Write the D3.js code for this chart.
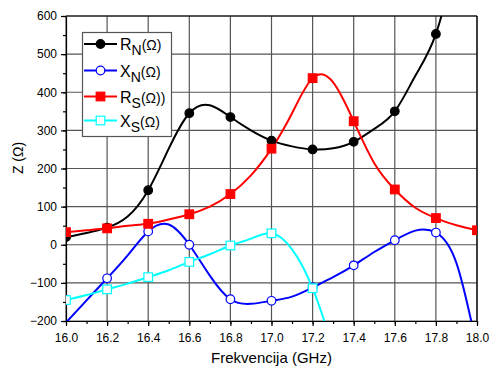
<!DOCTYPE html>
<html><head><meta charset="utf-8">
<script src="https://cdn.jsdelivr.net/npm/d3@7"></script>
<style>body{margin:0;background:#fff}svg{display:block;font-family:"Liberation Sans",Arial,sans-serif}</style>
</head><body><svg id="c" width="491" height="367"></svg>
<script>
// measured every 0.1 GHz; markers are shown on every second point
const freq = [16.0,16.1,16.2,16.3,16.4,16.5,16.6,16.7,16.8,16.9,17.0,17.1,17.2,17.3,17.4,17.5,17.6,17.7,17.8,17.9,18.0];
const RN = [20,31,45,74,143,252,345,366,335,300,273,258,250,253,270,304,350,443,553,760,1000];
const XN = [-204,-146,-88,-28,35,53,0,-81,-143,-155,-147,-136,-112,-85,-54,-19,12,37,32,-48,-270];
const RS = [33,38,43,50,55,66,80,100,133,182,252,345,437,426,324,214,145,97,70,51,38];
const XSfreq = [16.0,16.1,16.2,16.3,16.4,16.5,16.6,16.7,16.8,16.9,17.0,17.1,17.2,17.3];
const XS = [-145,-132,-117,-102,-85,-67,-45,-25,-2,16,30,-12,-114,-270];
const xTicks = [16.0,16.2,16.4,16.6,16.8,17.0,17.2,17.4,17.6,17.8,18.0];
const yTicks = [-200,-100,0,100,200,300,400,500,600];
const legendLabels = [["R","N","(Ω)"],["X","N","(Ω)"],["R","S","(Ω))"],["X","S","(Ω)"]];

const W=491,H=367,m={l:66,r:14,t:16,b:46};
const svg=d3.select("#c");
const x=d3.scaleLinear().domain([16,18]).range([m.l,W-m.r]);
const y=d3.scaleLinear().domain([-200,600]).range([H-m.b,m.t]);

svg.append("defs").append("clipPath").attr("id","clip").append("rect")
 .attr("x",m.l).attr("y",m.t).attr("width",W-m.l-m.r).attr("height",H-m.t-m.b);

const g=svg.append("g");
g.selectAll(".vg").data(xTicks).join("line").attr("x1",d=>x(d)).attr("x2",d=>x(d))
 .attr("y1",m.t).attr("y2",H-m.b).attr("stroke","#555").attr("stroke-width",1.2);
g.selectAll(".hg").data(yTicks).join("line").attr("y1",d=>y(d)).attr("y2",d=>y(d))
 .attr("x1",m.l).attr("x2",W-m.r).attr("stroke","#555").attr("stroke-width",1.2);

const xMinor=d3.range(16,18.001,0.1);
const yMinor=d3.range(-200,601,50);
const xa=svg.append("g").attr("transform",`translate(0,${H-m.b})`)
 .call(d3.axisBottom(x).tickValues(xTicks).tickFormat(d3.format(".1f")).tickSize(5).tickSizeOuter(0));
svg.append("g").attr("transform",`translate(0,${H-m.b})`)
 .call(d3.axisBottom(x).tickValues(xMinor).tickFormat("").tickSize(3).tickSizeOuter(0)).select(".domain").remove();
const ya=svg.append("g").attr("transform",`translate(${m.l},0)`)
 .call(d3.axisLeft(y).tickValues(yTicks).tickSize(5).tickSizeOuter(0));
svg.append("g").attr("transform",`translate(${m.l},0)`)
 .call(d3.axisLeft(y).tickValues(yMinor).tickFormat("").tickSize(3).tickSizeOuter(0)).select(".domain").remove();
svg.selectAll(".tick text").attr("font-size",12).attr("fill","#000").attr("font-family","Liberation Sans, Arial, sans-serif");
xa.selectAll(".tick text").attr("dy","1.05em");
ya.selectAll(".tick text").attr("dx","-1px");
svg.selectAll(".domain,.tick line").attr("stroke","#000").attr("stroke-width",1.2);
svg.append("line").attr("x1",m.l).attr("x2",W-m.r).attr("y1",m.t).attr("y2",m.t).attr("stroke","#000").attr("stroke-width",1.2);
svg.append("line").attr("x1",W-m.r).attr("x2",W-m.r).attr("y1",m.t).attr("y2",H-m.b).attr("stroke","#000").attr("stroke-width",1.2);

svg.append("text").attr("x",(m.l+W-m.r)/2).attr("y",363).attr("text-anchor","middle")
 .attr("font-size",15).text("Frekvencija (GHz)");
svg.append("text").attr("transform","translate(23,158) rotate(-90)").attr("text-anchor","middle")
 .attr("font-size",14).text("Z (Ω)");

const series=[
 {xs:freq,ys:RN,color:"#000",marker:"circle",fill:"#000"},
 {xs:freq,ys:XN,color:"#0000ff",marker:"circle",fill:"#fff"},
 {xs:freq,ys:RS,color:"#ff0000",marker:"square",fill:"#ff0000"},
 {xs:XSfreq,ys:XS,color:"#00ffff",marker:"square",fill:"#fff"}
];
const line=d3.line().x(d=>x(d[0])).y(d=>y(d[1])).curve(d3.curveNatural);
const plot=svg.append("g").attr("clip-path","url(#clip)");
series.forEach(s=>{
  const pts=s.xs.map((f,i)=>[f,s.ys[i]]);
  plot.append("path").attr("d",line(pts)).attr("fill","none").attr("stroke",s.color).attr("stroke-width",2);
});
const mk=svg.append("g");
function drawMarker(sel,s,cx,cy){
  if(s.marker==="circle"){
    sel.append("circle").attr("cx",cx).attr("cy",cy).attr("r",4.3).attr("fill",s.fill).attr("stroke",s.color).attr("stroke-width",1.2);
  } else {
    sel.append("rect").attr("x",cx-4.3).attr("y",cy-4.3).attr("width",8.6).attr("height",8.6).attr("fill",s.fill).attr("stroke",s.color).attr("stroke-width",1.2);
  }
}
series.forEach(s=>{
  const pg=mk.append("g").attr("clip-path","url(#clip)");
  s.xs.forEach((f,i)=>{ if(i%2===0 && s.ys[i]>=-200&&s.ys[i]<=600) drawMarker(pg,s,x(f),y(s.ys[i])); });
});

const lg=svg.append("g");
lg.append("rect").attr("x",82.5).attr("y",32.5).attr("width",89).attr("height",104).attr("fill","#fff").attr("stroke","#555").attr("stroke-width",1.2);
const ly=[44,70.5,96.5,120.5];
series.forEach((s,i)=>{
  lg.append("line").attr("x1",84).attr("x2",117).attr("y1",ly[i]).attr("y2",ly[i]).attr("stroke",s.color).attr("stroke-width",2);
  drawMarker(lg,s,100.5,ly[i]);
  const t=lg.append("text").attr("x",120).attr("y",ly[i]+6).attr("font-size",16);
  const L=legendLabels[i];
  t.append("tspan").text(L[0]);
  t.append("tspan").attr("font-size",14).attr("dy",5).text(L[1]);
  t.append("tspan").attr("font-size",14).attr("dy",-5).text(L[2]);
});
</script></body></html>
